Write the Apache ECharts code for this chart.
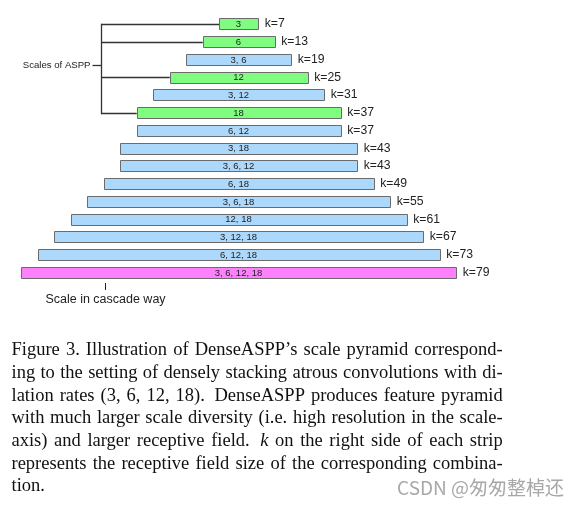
<!DOCTYPE html>
<html>
<head>
<meta charset="utf-8">
<script src="https://cdn.jsdelivr.net/npm/echarts@6/dist/echarts.min.js"></script>
<style>
html,body{margin:0;padding:0;background:#fff;}
#chart{width:582px;height:506px;}
</style>
</head>
<body>
<div id="chart"></div>
<script>
// ---- data ----
const combos = ['3','6','3, 6','12','3, 12','18','6, 12','3, 18','3, 6, 12','6, 18','3, 6, 18','12, 18','3, 12, 18','6, 12, 18','3, 6, 12, 18'];
const kValues = [7,13,19,25,31,37,37,43,43,49,55,61,67,73,79];
const kinds = ['aspp','aspp','dense','aspp','dense','aspp','dense','dense','dense','dense','dense','dense','dense','dense','full'];
const asppLabel = 'Scales of ASPP';
const cascadeLabel = 'Scale in cascade way';
const captionLines = [
  'Figure 3. Illustration of DenseASPP\u2019s scale pyramid correspond-',
  'ing to the setting of densely stacking atrous convolutions with di-',
  'lation rates (3, 6, 12, 18).  DenseASPP produces feature pyramid',
  'with much larger scale diversity (i.e. high resolution in the scale-',
  'axis) and larger receptive field.  k on the right side of each strip',
  'represents the receptive field size of the corresponding combina-',
  'tion.'
];
const watermark = 'CSDN @\u5306\u5306\u6574\u68f9\u8fd8';

// ---- styles ----
const fills = {aspp:'#80fd80', dense:'#acd8fc', full:'#fd80fd'};
const sans = '"Liberation Sans", Arial, sans-serif';
const serif = '"Liberation Serif", "Times New Roman", serif';
const bracketX = -25; // data units
const dark = '#222';

const chart = echarts.init(document.getElementById('chart'), null, {renderer:'canvas'});

const barData = kValues.map((k, i) => [i, k]);

function renderBar(params, api) {
  const i = api.value(0);
  const k = api.value(1);
  const l = api.coord([-k / 2, i]);
  const r = api.coord([k / 2, i]);
  const h = api.size([0, 1])[1] * 0.64;
  const kind = kinds[i];
  const children = [
    {type:'rect', shape:{x:Math.round(l[0]) + 0.5, y:Math.round(l[1] - h / 2) + 0.5, width:Math.round(r[0] - l[0]), height:Math.round(h)},
     style:{fill:fills[kind], stroke:'#6b6b6b', lineWidth:1}},
    {type:'text', style:{text:combos[i], x:(l[0] + r[0]) / 2, y:l[1] + 0.5, align:'center', verticalAlign:'middle',
     font:'9.5px ' + sans, fill:dark}},
    {type:'text', style:{text:'k=' + k, x:r[0] + 7, y:l[1], align:'left', verticalAlign:'middle',
     font:'12.2px ' + sans, fill:dark}}
  ];
  if (kind === 'aspp') {
    const b = api.coord([bracketX, i]);
    children.unshift({type:'line', shape:{x1:b[0], y1:Math.round(l[1]) + 0.5, x2:l[0], y2:Math.round(l[1]) + 0.5},
      style:{stroke:'#333', lineWidth:1.3}});
  }
  return {type:'group', children};
}

function renderBracket(params, api) {
  const idxs = kinds.map((t, i) => t === 'aspp' ? i : -1).filter(i => i >= 0);
  const top = api.coord([bracketX, idxs[0]]);
  const bot = api.coord([bracketX, idxs[idxs.length - 1]]);
  const x = Math.round(top[0]) + 0.5;
  const my = 65.5;
  return {type:'group', children:[
    {type:'line', shape:{x1:x, y1:Math.round(top[1]) - 0.2, x2:x, y2:Math.round(bot[1]) + 1.2}, style:{stroke:'#333', lineWidth:1.3}},
    {type:'line', shape:{x1:x - 9, y1:my, x2:x, y2:my}, style:{stroke:'#333', lineWidth:1.3}},
    {type:'text', style:{text:asppLabel, x:x - 11, y:my, align:'right', verticalAlign:'middle', font:'9.6px ' + sans, fill:dark}}
  ]};
}

// ---- justified caption as graphic text ----
const capSize = 18.5;
const capLeft = 11.5, capRight = 502.7;
const capY0 = 350.5, capStep = 22.67;
const mctx = document.createElement('canvas').getContext('2d');
function wordWidth(w, italic) {
  mctx.font = (italic ? 'italic ' : '') + capSize + 'px ' + serif;
  return mctx.measureText(w).width;
}
const captionGraphics = [];
captionLines.forEach((line, li) => {
  const y = capY0 + li * capStep;
  const parts = line.split(/( +)/).filter(s => s.length);
  const words = [], gaps = [];
  parts.forEach(p => { if (/^ +$/.test(p)) gaps.push(p.length > 1 ? 1.6 : 1); else words.push(p); });
  const italics = words.map((w, wi) => li === 4 && w === 'k');
  const widths = words.map((w, wi) => wordWidth(w, italics[wi]));
  const total = widths.reduce((a, b) => a + b, 0);
  const last = li === captionLines.length - 1;
  const gapSum = gaps.reduce((a, b) => a + b, 0);
  const unit = last ? wordWidth(' ', false) : (capRight - capLeft - total) / gapSum;
  let x = capLeft;
  words.forEach((w, wi) => {
    captionGraphics.push({type:'text', style:{text:w, x:x, y:y, align:'left', verticalAlign:'middle',
      font:(italics[wi] ? 'italic ' : '') + capSize + 'px ' + serif, fill:'#111'}});
    x += widths[wi] + (wi < gaps.length ? gaps[wi] * unit : 0);
  });
});

const option = {
  backgroundColor:'#ffffff',
  animation:false,
  grid:{left:18.5, width:440, top:15.12, height:266.4, containLabel:false},
  xAxis:{type:'value', min:-40, max:40, show:false},
  yAxis:{type:'category', data:combos, inverse:true, show:false},
  series:[
    {type:'custom', renderItem:renderBracket, data:[[0]], z:1, silent:true},
    {type:'custom', renderItem:renderBar, data:barData, encode:{x:1, y:0}, z:2, silent:true}
  ],
  graphic:[
    {type:'line', shape:{x1:105.5, y1:283, x2:105.5, y2:290}, style:{stroke:dark, lineWidth:1}},
    {type:'text', style:{text:cascadeLabel, x:105.5, y:300, align:'center', verticalAlign:'middle', font:'12.5px ' + sans, fill:dark}},
    ...captionGraphics,
    {type:'text', style:{text:watermark, x:564, y:488, align:'right', verticalAlign:'middle', font:'19px "Noto Sans CJK SC", sans-serif', fill:'#a8a8a8'}}
  ]
};
chart.setOption(option);
</script>
</body>
</html>
